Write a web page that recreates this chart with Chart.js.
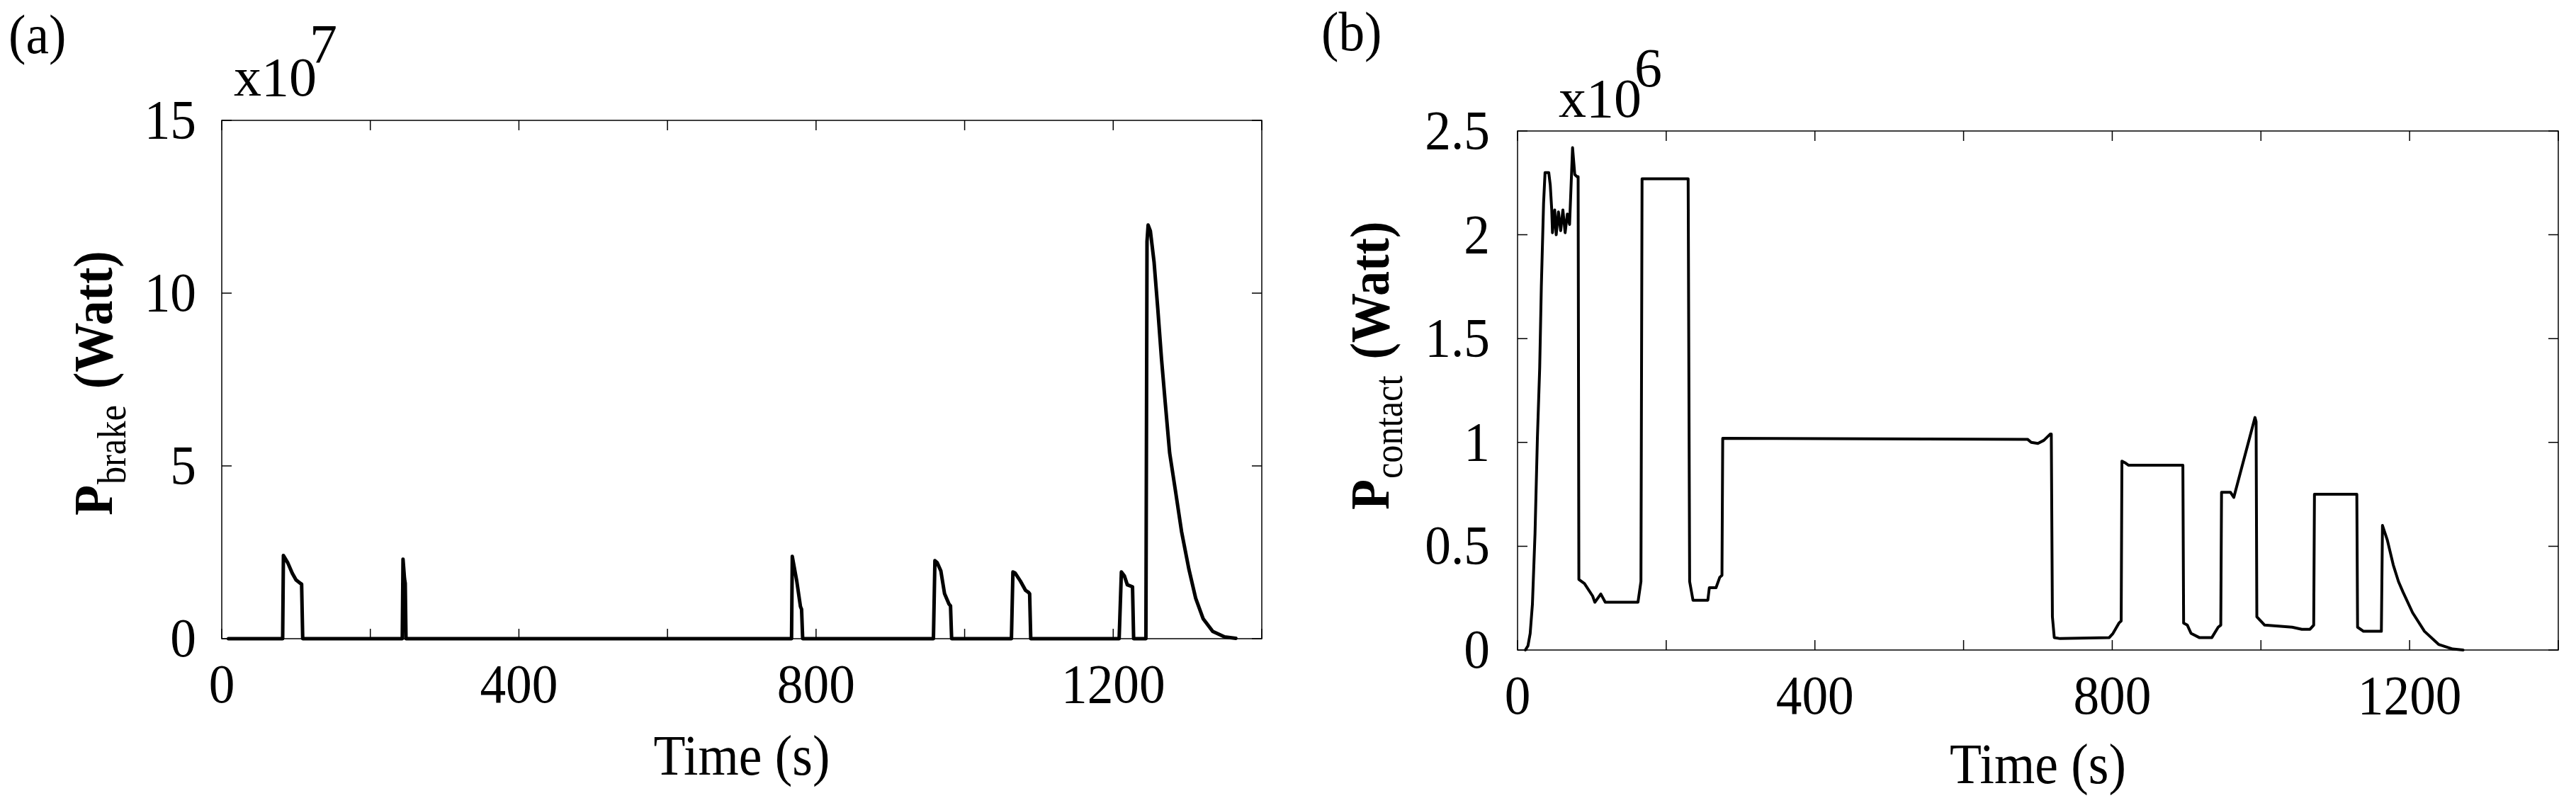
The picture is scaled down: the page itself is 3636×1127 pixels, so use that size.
<!DOCTYPE html>
<html>
<head>
<meta charset="utf-8">
<script src="https://cdn.jsdelivr.net/npm/chart.js@4.4.1/dist/chart.umd.min.js"></script>
<style>
  html, body { margin: 0; padding: 0; background: #fff; }
  #wrap { position: relative; width: 3636px; height: 1127px; overflow: hidden; }
  canvas { position: absolute; top: 0; }
  #brake { left: 0; }
  #contact { left: 1818px; }
</style>
</head>
<body>
<div id="wrap">
  <canvas id="brake" width="1818" height="1127"></canvas>
  <canvas id="contact" width="1818" height="1127"></canvas>
</div>
<script>
// (a) braking power, plotted in units of 1e7 W
const brakeTime = [9, 82, 83, 89, 95, 100, 106, 107.5, 109,
  243, 244, 246, 247, 248,
  767, 768, 774, 779, 780.5, 782,
  958, 960, 963, 968, 973, 979, 981, 982.5,
  1063, 1065, 1068, 1075, 1082, 1086, 1087.5, 1089,
  1208, 1211, 1215, 1219, 1226, 1227.5,
  1244, 1245.5, 1247, 1250, 1255, 1260, 1265, 1270, 1276, 1284, 1292, 1302, 1311, 1321, 1334, 1350, 1365];
const brakePower = [0, 0, 2.41, 2.19, 1.89, 1.7, 1.6, 1.58, 0,
  0, 2.3, 1.74, 1.6, 0,
  0, 2.38, 1.67, 0.93, 0.85, 0,
  0, 2.26, 2.2, 1.96, 1.3, 1.0, 0.95, 0,
  0, 1.93, 1.9, 1.67, 1.4, 1.34, 1.3, 0,
  0, 1.93, 1.82, 1.56, 1.5, 0,
  0, 11.5, 11.97, 11.8, 10.9, 9.55, 8.1, 6.84, 5.37, 4.25, 3.1, 2.0, 1.17, 0.58, 0.21, 0.05, 0.01];

// (b) contact power, plotted in units of 1e6 W
const contactTime = [10.5, 14, 17, 20, 23.5, 26.7, 29.8, 32, 35, 37,
  42, 44, 46, 47, 50, 52, 55, 58, 61, 64,
  67, 70, 74, 77, 80, 81.5, 82.5, 90, 101, 104,
  112, 118, 162, 166, 167.5, 229.5, 231.5, 236, 256, 258,
  267, 272, 275, 276, 686, 691, 700, 708, 716.5, 718,
  719.5, 722, 730, 796, 801, 809, 812, 813, 818, 822,
  895, 896, 901, 906, 917, 934, 942.5, 946, 947, 959,
  963.5, 992, 993.5, 994.5, 1005, 1042, 1055, 1066, 1071, 1072,
  1129, 1130, 1138, 1162, 1163.5, 1170, 1178, 1185, 1191, 1204,
  1220, 1239, 1258, 1272];
const contactPower = [0, 0.02, 0.08, 0.22, 0.56, 1.02, 1.36, 1.75, 2.15, 2.3,
  2.3, 2.24, 2.12, 2.01, 2.12, 2.0, 2.11, 2.02, 2.12, 2.01,
  2.1, 2.05, 2.42, 2.29, 2.28, 2.28, 0.34, 0.32, 0.26, 0.23,
  0.27, 0.23, 0.23, 0.33, 2.27, 2.27, 0.33, 0.24, 0.24, 0.3,
  0.3, 0.35, 0.36, 1.02, 1.015, 1.0, 0.995, 1.01, 1.04, 1.04,
  0.16, 0.06, 0.055, 0.06, 0.08, 0.13, 0.14, 0.91, 0.9, 0.89,
  0.89, 0.13, 0.12, 0.08, 0.06, 0.06, 0.11, 0.12, 0.76, 0.76,
  0.735, 1.12, 1.1, 0.16, 0.12, 0.11, 0.1, 0.1, 0.12, 0.75,
  0.75, 0.11, 0.09, 0.09, 0.6, 0.53, 0.41, 0.33, 0.28, 0.18,
  0.09, 0.027, 0.005, 0];

// ticks
const timeTicks = [0, 200, 400, 600, 800, 1000, 1200, 1400];
const timeLabels = [0, 400, 800, 1200];
const brakeTicks = [0, 5, 10, 15];
const contactTicks = [0, 0.5, 1, 1.5, 2, 2.5];

const SERIF = '"Liberation Serif", "Times New Roman", serif';

// the original uses a slightly condensed Times, so squeeze glyphs a little
function text(ctx, s, x, y, font, align, k) {
  ctx.save();
  ctx.translate(x, y);
  ctx.scale(k, 1);
  ctx.font = font;
  ctx.textAlign = align || 'left';
  ctx.fillText(s, 0, 0);
  const w = ctx.measureText(s).width * k;
  ctx.restore();
  return w;
}

// box, inward ticks on all four sides, tick labels and titles
const decor = {
  id: 'decor',
  afterDraw(chart, args, o) {
    const { ctx, chartArea: a, scales: { x, y } } = chart;
    const tl = 14;
    ctx.save();
    ctx.strokeStyle = '#000';
    ctx.lineWidth = 1.5;
    ctx.strokeRect(a.left, a.top, a.right - a.left, a.bottom - a.top);
    ctx.beginPath();
    x.ticks.forEach(t => {
      const px = x.getPixelForValue(t.value);
      ctx.moveTo(px, a.bottom); ctx.lineTo(px, a.bottom - tl);
      ctx.moveTo(px, a.top); ctx.lineTo(px, a.top + tl);
    });
    y.ticks.forEach(t => {
      const py = y.getPixelForValue(t.value);
      ctx.moveTo(a.left, py); ctx.lineTo(a.left + tl, py);
      ctx.moveTo(a.right, py); ctx.lineTo(a.right - tl, py);
    });
    ctx.stroke();

    ctx.fillStyle = '#000';
    ctx.textBaseline = 'alphabetic';
    const tickFont = '78px ' + SERIF;

    x.ticks.forEach(t => {
      if (!timeLabels.includes(t.value)) return;
      text(ctx, String(t.value), x.getPixelForValue(t.value), a.bottom + 90, tickFont, 'center', 0.94);
    });
    y.ticks.forEach(t => {
      text(ctx, String(t.value), a.left - o.tickGap, y.getPixelForValue(t.value) + 25, tickFont, 'right', 0.94);
    });

    text(ctx, o.panel, o.panelX, o.panelY, '78px ' + SERIF, 'left', 0.94);

    const w = text(ctx, 'x10', o.expX, o.expY, '78px ' + SERIF, 'left', 1);
    text(ctx, o.exp, o.expX + w - 10, o.expY - o.expRise, '78px ' + SERIF, 'left', 1);

    text(ctx, 'Time (s)', (a.left + a.right) / 2, o.xTitleY, '80px ' + SERIF, 'center', 0.92);

    ctx.translate(o.yTitleX, o.yTitleY);
    ctx.rotate(-Math.PI / 2);
    let cx = text(ctx, 'P', 0, 0, 'bold 78px ' + SERIF, 'left', 0.9) + 1;
    cx += text(ctx, o.sub, cx, 19, '56px ' + SERIF, 'left', 0.9) + 23;
    text(ctx, '(Watt)', cx, 0, 'bold 78px ' + SERIF, 'left', 0.9);
    ctx.restore();
  }
};

function makeChart(id, times, values, yTicks, cfg) {
  return new Chart(document.getElementById(id), {
    type: 'line',
    data: {
      datasets: [{
        data: times.map((t, i) => ({ x: t, y: values[i] })),
        borderColor: '#000',
        borderWidth: cfg.lineWidth,
        pointRadius: 0,
        tension: 0,
        fill: false,
        clip: false,
        borderJoinStyle: 'round',
        borderCapStyle: 'round'
      }]
    },
    options: {
      responsive: false,
      animation: false,
      devicePixelRatio: 1,
      layout: { padding: { left: 0, top: cfg.top, right: cfg.right, bottom: 0 } },
      plugins: {
        legend: { display: false },
        tooltip: { enabled: false },
        decor: cfg.decor
      },
      scales: {
        x: {
          type: 'linear',
          min: 0,
          max: 1400,
          grid: { display: false },
          border: { display: false },
          ticks: { display: false },
          afterBuildTicks: s => { s.ticks = timeTicks.map(v => ({ value: v })); },
          afterFit: s => { s.height = cfg.xHeight; }
        },
        y: {
          type: 'linear',
          min: yTicks[0],
          max: yTicks[yTicks.length - 1],
          grid: { display: false },
          border: { display: false },
          ticks: { display: false },
          afterBuildTicks: s => { s.ticks = yTicks.map(v => ({ value: v })); },
          afterFit: s => { s.width = cfg.yWidth; }
        }
      }
    },
    plugins: [decor]
  });
}

makeChart('brake', brakeTime, brakePower, brakeTicks, {
  lineWidth: 5,
  top: 170, right: 37, yWidth: 313, xHeight: 225,
  decor: {
    tickGap: 36,
    panel: '(a)', panelX: 12, panelY: 75,
    exp: '7', expX: 330, expY: 135, expRise: 47,
    xTitleY: 1094,
    sub: 'brake', yTitleX: 158, yTitleY: 728
  }
});

makeChart('contact', contactTime, contactPower, contactTicks, {
  lineWidth: 4,
  top: 185, right: 25, yWidth: 324, xHeight: 209,
  decor: {
    tickGap: 39,
    panel: '(b)', panelX: 47, panelY: 71,
    exp: '6', expX: 382, expY: 165, expRise: 43,
    xTitleY: 1106,
    sub: 'contact', yTitleX: 142, yTitleY: 720
  }
});
</script>
</body>
</html>
